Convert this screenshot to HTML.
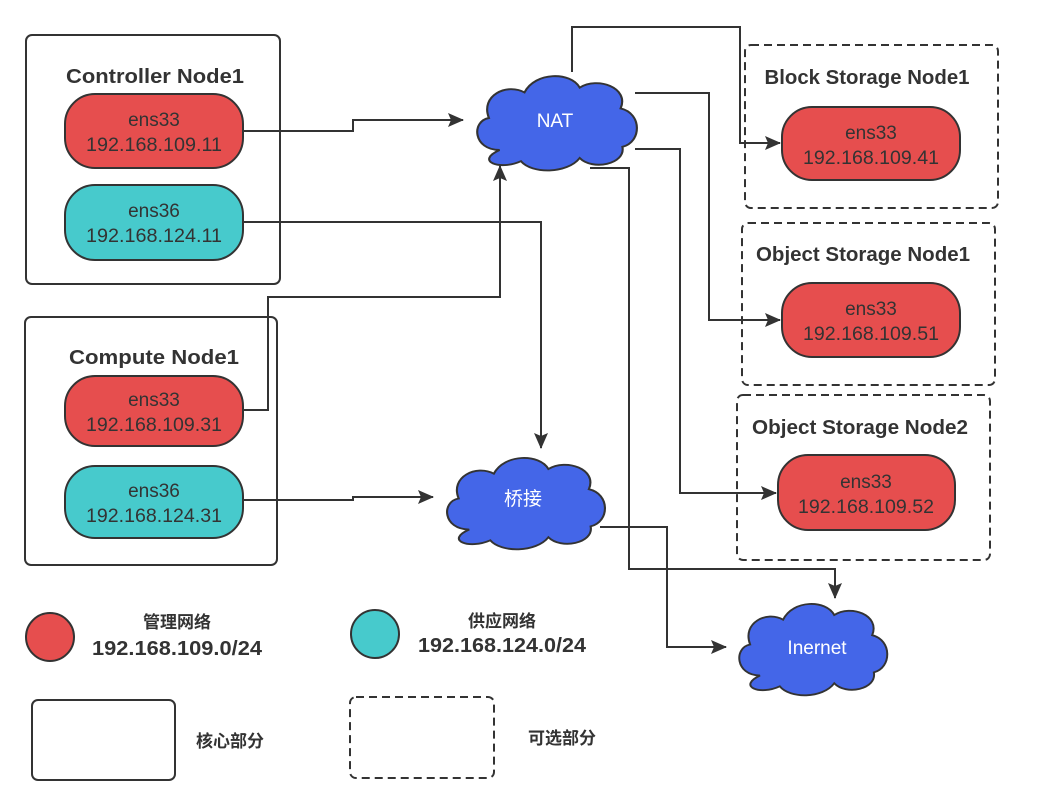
<!DOCTYPE html>
<html><head><meta charset="utf-8"><style>
body{margin:0;background:#fff;}
svg text{font-family:"Liberation Sans","Noto Sans CJK SC",sans-serif;}
</style></head><body>
<svg width="1038" height="796" viewBox="0 0 1038 796" xmlns="http://www.w3.org/2000/svg">
<defs>
<marker id="a" markerWidth="16" markerHeight="14" refX="15" refY="7" orient="auto" markerUnits="userSpaceOnUse" viewBox="0 0 16 14"><path d="M0,0 L16,7 L0,14 L3,7 Z" fill="#333"/></marker>
<path id="cloud" d="M20,50 C5,50 4,32 14,30 C9,16 24,8 34,14 C40,1 60,1 65,11 C75,4 93,11 88,24 C100,27 100,45 89,48 C91,59 72,63 65,55 C58,65 38,65 32,57 C20,63 6,57 20,50 Z"/>
</defs>
<g fill="none" stroke="#333" stroke-width="2">
<rect x="26" y="35" width="254" height="249" rx="6"/>
<rect x="25" y="317" width="252" height="248" rx="6"/>
<rect x="32" y="700" width="143" height="80" rx="6"/>
<g stroke-dasharray="8,5">
<rect x="745" y="45" width="253" height="163" rx="6"/>
<rect x="742" y="223" width="253" height="162" rx="6"/>
<rect x="737" y="395" width="253" height="165" rx="6"/>
<rect x="350" y="697" width="144" height="81" rx="6"/>
</g>
</g>
<g stroke="#333" stroke-width="2" fill="none">
<polyline points="243,131 353,131 353,120 463,120" marker-end="url(#a)"/>
<polyline points="572,72 572,27 740,27 740,143 780,143" marker-end="url(#a)"/>
<polyline points="635,93 709,93 709,320 780,320" marker-end="url(#a)"/>
<polyline points="635,149 680,149 680,493 776,493" marker-end="url(#a)"/>
<polyline points="590,168 629,168 629,569 835,569 835,598" marker-end="url(#a)"/>
<polyline points="600,527 667,527 667,647 726,647" marker-end="url(#a)"/>
<polyline points="243,222 541,222 541,448" marker-end="url(#a)"/>
<polyline points="243,410 268,410 268,297 500,297 500,166" marker-end="url(#a)"/>
<polyline points="243,500 353,500 353,497 433,497" marker-end="url(#a)"/>
</g>
<g stroke="#333" fill="#4466e8">
<use href="#cloud" transform="translate(464,70) scale(1.78,1.6)" style="stroke-width:1.2"/>
<use href="#cloud" transform="translate(434,452) scale(1.76,1.55)" style="stroke-width:1.2"/>
<use href="#cloud" transform="translate(727,598) scale(1.65,1.55)" style="stroke-width:1.2"/>
</g>
<g fill="#fff" font-size="19" text-anchor="middle">
<text x="555" y="127">NAT</text>
<text x="523" y="505">桥接</text>
<text x="817" y="654">Inernet</text>
</g>
<g stroke="#333" stroke-width="2">
<rect x="65" y="94" width="178" height="74" rx="30" fill="#e64e4e"/>
<rect x="65" y="185" width="178" height="75" rx="30" fill="#47cacc"/>
<rect x="65" y="376" width="178" height="70" rx="30" fill="#e64e4e"/>
<rect x="65" y="466" width="178" height="72" rx="30" fill="#47cacc"/>
<rect x="782" y="107" width="178" height="73" rx="30" fill="#e64e4e"/>
<rect x="782" y="283" width="178" height="74" rx="30" fill="#e64e4e"/>
<rect x="778" y="455" width="177" height="75" rx="30" fill="#e64e4e"/>
<circle cx="50" cy="637" r="24" fill="#e64e4e"/>
<circle cx="375" cy="634" r="24" fill="#47cacc"/>
</g>
<g fill="#333" font-size="19" text-anchor="middle" lengthAdjust="spacingAndGlyphs">
<text x="154" y="126">ens33</text><text x="154" y="151" textLength="136" lengthAdjust="spacingAndGlyphs">192.168.109.11</text>
<text x="154" y="217">ens36</text><text x="154" y="242" textLength="136" lengthAdjust="spacingAndGlyphs">192.168.124.11</text>
<text x="154" y="406">ens33</text><text x="154" y="431" textLength="136" lengthAdjust="spacingAndGlyphs">192.168.109.31</text>
<text x="154" y="497">ens36</text><text x="154" y="522" textLength="136" lengthAdjust="spacingAndGlyphs">192.168.124.31</text>
<text x="871" y="139">ens33</text><text x="871" y="164" textLength="136" lengthAdjust="spacingAndGlyphs">192.168.109.41</text>
<text x="871" y="315">ens33</text><text x="871" y="340" textLength="136" lengthAdjust="spacingAndGlyphs">192.168.109.51</text>
<text x="866" y="488">ens33</text><text x="866" y="513" textLength="136" lengthAdjust="spacingAndGlyphs">192.168.109.52</text>
</g>
<g fill="#333" font-size="20" font-weight="bold" text-anchor="middle">
<text x="155" y="83" textLength="178" lengthAdjust="spacingAndGlyphs">Controller Node1</text>
<text x="154" y="364" textLength="170" lengthAdjust="spacingAndGlyphs">Compute Node1</text>
<text x="867" y="84" textLength="205" lengthAdjust="spacingAndGlyphs">Block Storage Node1</text>
<text x="863" y="261" textLength="214" lengthAdjust="spacingAndGlyphs">Object Storage Node1</text>
<text x="860" y="434" textLength="216" lengthAdjust="spacingAndGlyphs">Object Storage Node2</text>
<text x="177" y="628" font-size="17">管理网络</text>
<text x="177" y="655" textLength="170" lengthAdjust="spacingAndGlyphs">192.168.109.0/24</text>
<text x="502" y="627" font-size="17">供应网络</text>
<text x="502" y="652" textLength="168" lengthAdjust="spacingAndGlyphs">192.168.124.0/24</text>
<text x="230" y="747" font-size="17">核心部分</text>
<text x="562" y="744" font-size="17">可选部分</text>
</g>
</svg>
</body></html>
